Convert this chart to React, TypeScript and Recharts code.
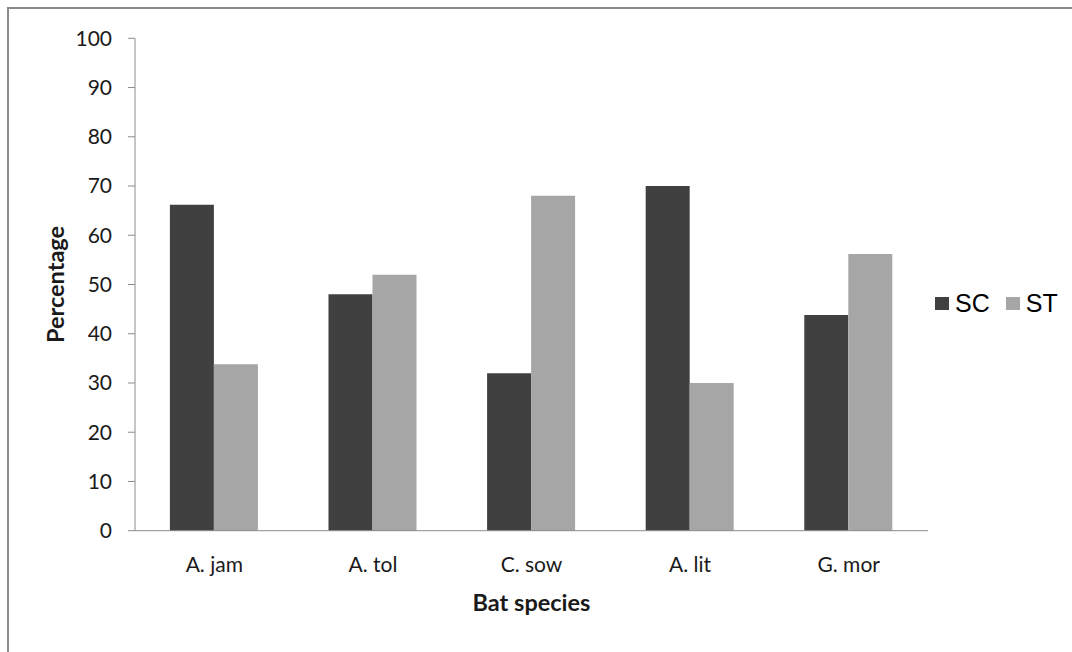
import { BarChart, Bar, XAxis, YAxis, Legend } from 'recharts';

const species = ['A. jam', 'A. tol', 'C. sow', 'A. lit', 'G. mor'];
const scValues = [66.2, 48, 32, 70, 43.8];
const stValues = [33.8, 52, 68, 30, 56.2];
const yTicks = [0, 10, 20, 30, 40, 50, 60, 70, 80, 90, 100];

const SERIES = [
    { key: 'SC', color: '#404040' },
    { key: 'ST', color: '#a6a6a6' },
];

const AXIS_COLOR = '#8c8c8c';
const TICK_FONT = 'Lato, "Open Sans", sans-serif';

const data = species.map((name, i) => ({
    name,
    SC: scValues[i],
    ST: stValues[i],
}));

// eslint-disable-next-line @typescript-eslint/no-explicit-any
const renderYLabel = (props: any) => {
    const { viewBox } = props;
    const x = viewBox.x + 45.5;
    const y = viewBox.y + viewBox.height / 2;
    return (
        <text
            x={x}
            y={y}
            transform={`rotate(-90, ${x}, ${y})`}
            textAnchor="middle"
            dominantBaseline="central"
            fontFamily={TICK_FONT}
            fontWeight="bold"
            fontSize={23.5}
            fill="#1a1a1a"
        >
            Percentage
        </text>
    );
};

const renderLegend = () => (
    <div
        style={{
            display: 'flex',
            alignItems: 'center',
            width: 122,
            fontFamily: '"Liberation Sans", Arial, sans-serif',
            fontSize: 25,
            color: '#000',
        }}
    >
        {SERIES.map((s, i) => (
            <div key={s.key} style={{ display: 'flex', alignItems: 'center', marginLeft: i === 0 ? 0 : 16 }}>
                <div style={{ width: 14, height: 13, backgroundColor: s.color, marginRight: 6 }} />
                <span>{s.key}</span>
            </div>
        ))}
    </div>
);

export default function App() {
    return (
        <div
            style={{
                position: 'fixed',
                left: 0,
                top: 0,
                width: 1072,
                height: 652,
                overflow: 'hidden',
                background: '#fff',
            }}
        >
            <div
                style={{
                    position: 'absolute',
                    left: 7,
                    top: 7,
                    width: 1070,
                    height: 650,
                    borderTop: '2px solid #8a8a8a',
                    borderLeft: '2px solid #8a8a8a',
                }}
            >
                <BarChart
                    width={1063}
                    height={643}
                    data={data}
                    margin={{ top: 29.3, right: 22, bottom: 31.3, left: 0 }}
                    barCategoryGap="22%"
                    barGap={0}
                >
                    <XAxis
                        dataKey="name"
                        height={90}
                        stroke={AXIS_COLOR}
                        tickLine={false}
                        tickSize={0}
                        tickMargin={26}
                        tick={{ fill: '#1a1a1a', fontSize: 21, fontFamily: TICK_FONT }}
                        label={{
                            value: 'Bat species',
                            position: 'insideBottom',
                            offset: 10,
                            fill: '#1a1a1a',
                            fontSize: 23.5,
                            fontWeight: 'bold',
                            fontFamily: TICK_FONT,
                        }}
                    />
                    <YAxis
                        width={126}
                        domain={[0, 100]}
                        ticks={yTicks}
                        interval={0}
                        stroke={AXIS_COLOR}
                        tickSize={7}
                        tickMargin={16}
                        tick={{ fill: '#1a1a1a', fontSize: 21, fontFamily: TICK_FONT }}
                        label={renderYLabel}
                    />
                    <Legend
                        content={renderLegend}
                        layout="vertical"
                        verticalAlign="middle"
                        align="right"
                        wrapperStyle={{ left: 926, top: 280 }}
                    />
                    {SERIES.map((s) => (
                        <Bar key={s.key} dataKey={s.key} fill={s.color} isAnimationActive={false} />
                    ))}
                </BarChart>
            </div>
        </div>
    );
}
